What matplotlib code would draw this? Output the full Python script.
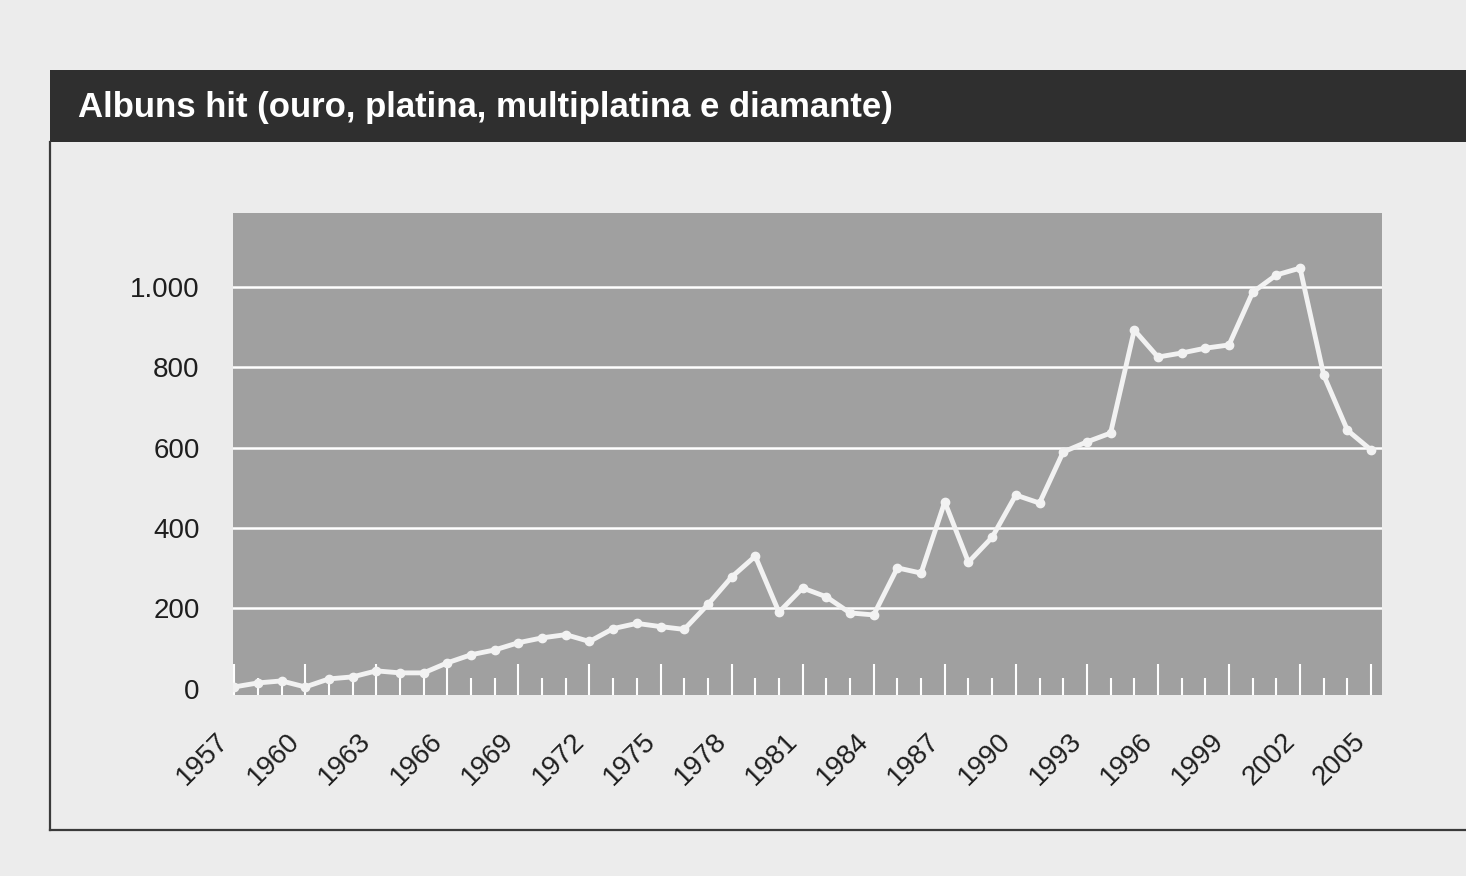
import matplotlib
matplotlib.use("Agg")
import matplotlib.pyplot as plt
from matplotlib.lines import Line2D
from matplotlib.patches import Rectangle

years = list(range(1957, 2006))
albums = [5, 15, 20, 5, 25, 30, 45, 40, 40, 65,
          85, 97, 115, 127, 135, 118, 150, 163, 155, 148,
          210, 278, 330, 191, 251, 229, 189, 184, 301, 288,
          465, 315, 377, 482, 462, 589, 614, 636, 892, 825,
          835, 847, 855, 986, 1029, 1046, 780, 643, 594]
y_ticks = [0, 200, 400, 600, 800, 1000]
y_tick_labels = ["0", "200", "400", "600", "800", "1.000"]
x_label_years = list(range(1957, 2006, 3))
title = "Albuns hit (ouro, platina, multiplatina e diamante)"

W, H = 1466, 876
fig = plt.figure(figsize=(W / 100, H / 100), dpi=100)
fig.patch.set_facecolor("#ececec")

# header bar
fig.patches.append(Rectangle((50 / W, 1 - 142 / H), 1 - 50 / W, 72 / H,
                             transform=fig.transFigure, facecolor="#2f2f2f",
                             edgecolor="none", zorder=1))
fig.text(78 / W, 1 - 108 / H, title, color="white", fontsize=25,
         fontweight="bold", family=["Liberation Sans", "DejaVu Sans"],
         va="center", ha="left", zorder=3)
# frame lines
fig.lines.append(Line2D([50 / W, 50 / W], [1 - 142 / H, 1 - 830 / H],
                        transform=fig.transFigure, color="#3a3a3a", lw=1.6))
fig.lines.append(Line2D([50 / W, 1.0], [1 - 830 / H, 1 - 830 / H],
                        transform=fig.transFigure, color="#3a3a3a", lw=1.6))

ax = fig.add_axes([233 / W, 1 - 695 / H, (1382 - 233) / W, (695 - 213) / H])
ax.set_facecolor("#a0a0a0")
for s in ax.spines.values():
    s.set_visible(False)

ax.set_xlim(1956.95, 2005.46)
ax.set_ylim(-15, 1183)

for v in y_ticks[1:]:
    ax.axhline(v, color="white", lw=1.8, zorder=1)

ax.plot(years, albums, color="#f2f2f2", lw=3.5, marker="o", markersize=6,
        markerfacecolor="#f2f2f2", markeredgecolor="#f2f2f2", zorder=3)

ax.set_yticks(y_ticks)
ax.set_yticklabels(y_tick_labels)
ax.set_xticks(x_label_years)
ax.set_xticklabels([str(y) for y in x_label_years], rotation=45, ha="right")
ax.set_xticks(years, minor=True)

ax.tick_params(axis="y", length=0, pad=24, labelsize=20, labelcolor="#1e1e1e")
ax.tick_params(axis="x", which="major", direction="in", length=22, width=1.5,
               color="white", pad=24, labelsize=20, labelcolor="#1e1e1e")
ax.tick_params(axis="x", which="minor", direction="in", length=12, width=1.5,
               color="white")
for lab in ax.get_xticklabels() + ax.get_yticklabels():
    lab.set_family(["Liberation Sans", "DejaVu Sans"])

fig.savefig("out.png", dpi=100, facecolor=fig.get_facecolor())
